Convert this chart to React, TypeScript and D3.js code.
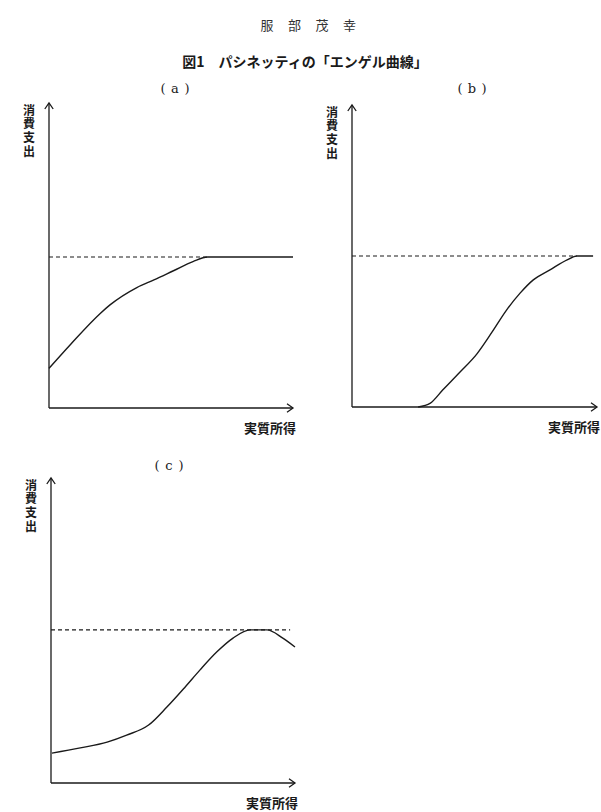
import React from "react";
import * as d3 from "d3";

// Panel (a): consumption reaches saturation and stays flat
const aIncome = [0, 9, 21, 25, 36, 43, 51, 59, 65, 100];
const aSpending = [13, 21, 31, 33.8, 39.5, 42, 45, 48, 49.5, 49.5];
const aSaturation = 49.5;

// Panel (b): S-shaped curve starting at positive income
const bIncome = [27, 32, 37, 44, 51, 57, 63, 68.6, 74, 80.8, 87.8, 91.8, 98.4];
const bSpending = [0, 1.3, 5.6, 11.5, 17.6, 24.6, 32, 37.7, 42.1, 45.4, 48.7, 50, 50];
const bSaturation = 50;

// Panel (c): rises, peaks at saturation, then declines
const cIncome = [0.4, 12, 23, 31, 40, 47.5, 55, 61, 68, 74.6, 81.6, 88.5, 95, 100];
const cSpending = [9.8, 11.5, 13.4, 15.7, 19, 24.9, 31.5, 37, 43, 47.5, 50.2, 50.2, 47.5, 44.6];
const cSaturation = 50.2;

const panelLetters = ["a", "b", "c"];
const yLabel = "消費支出";
const xLabel = "実質所得";
const author = ["服", "部", "茂", "幸"];
const title = "図1　パシネッティの「エンゲル曲線」";

type PanelProps = {
  x0: number; x1: number; y0: number; y1: number;
  income: number[]; spending: number[]; saturation: number;
  dashEnd: number; letter: string; labelX: number; labelY: number;
};

const ink = "#1a1a1a";
const jp = "'Noto Sans CJK JP', sans-serif";

function Panel(p: PanelProps) {
  const xs = d3.scaleLinear().domain([0, 100]).range([p.x0, p.x1]);
  const ys = d3.scaleLinear().domain([0, 100]).range([p.y0, p.y1]);
  const pts: [number, number][] = p.income.map((v, i) => [v, p.spending[i]]);
  const line = d3
    .line<[number, number]>()
    .x((d) => xs(d[0]))
    .y((d) => ys(d[1]))
    .curve(d3.curveMonotoneX);
  const ah = 6;
  return (
    <g>
      <g fontSize={13} fontFamily="'DejaVu Serif', serif" fill={ink} textAnchor="middle">
        <text x={p.labelX - 12} y={p.labelY}>(</text>
        <text x={p.labelX} y={p.labelY}>{p.letter}</text>
        <text x={p.labelX + 12} y={p.labelY}>)</text>
      </g>
      {/* y axis */}
      <line x1={xs(0)} x2={xs(0)} y1={ys(0)} y2={ys(100)} stroke={ink} strokeWidth={1.3} />
      <path d={`M${xs(0) - ah * 0.7},${ys(100) + ah} L${xs(0)},${ys(100)} L${xs(0) + ah * 0.7},${ys(100) + ah}`}
        fill="none" stroke={ink} strokeWidth={1.3} />
      {/* x axis */}
      <line x1={xs(0)} x2={xs(100)} y1={ys(0)} y2={ys(0)} stroke={ink} strokeWidth={1.3} />
      <path d={`M${xs(100) - ah},${ys(0) - ah * 0.7} L${xs(100)},${ys(0)} L${xs(100) - ah},${ys(0) + ah * 0.7}`}
        fill="none" stroke={ink} strokeWidth={1.3} />
      {/* saturation dashed line */}
      <line x1={xs(0)} x2={xs(p.dashEnd)} y1={ys(p.saturation)} y2={ys(p.saturation)}
        stroke={ink} strokeWidth={1.1} strokeDasharray="4,3" />
      {/* Engel curve */}
      <path d={line(pts) || ""} fill="none" stroke={ink} strokeWidth={1.4} />
      {/* labels */}
      <text x={xs(0) - 20} y={ys(100) + 1} fontSize={12} fontWeight={700} fontFamily={jp} fill={ink}
        style={{ writingMode: "vertical-rl", letterSpacing: "1.8px" }}>{yLabel}</text>
      <text x={xs(100) + 3} y={ys(0) + 25} textAnchor="end" fontSize={13}
        fontWeight={700} fontFamily={jp} fill={ink}>{xLabel}</text>
    </g>
  );
}

export default function App() {
  return (
    <svg width={601} height={812} style={{ position: "absolute", left: 0, top: 0, background: "#fff" }}>
      <rect width={601} height={812} fill="#fff" />
      {author.map((c, i) => (
        <text key={c} x={267 + i * 27.5} y={30} textAnchor="middle" fontSize={13}
          fontFamily={jp} fill="#333">{c}</text>
      ))}
      <text x={305} y={67} textAnchor="middle" fontSize={14} fontWeight={700}
        fontFamily={jp} fill={ink}>{title}</text>
      <Panel x0={49} x1={293} y0={408} y1={103} income={aIncome} spending={aSpending}
        saturation={aSaturation} dashEnd={65} letter={panelLetters[0]} labelX={175} labelY={93} />
      <Panel x0={352} x1={597} y0={407} y1={105} income={bIncome} spending={bSpending}
        saturation={bSaturation} dashEnd={91.8} letter={panelLetters[1]} labelX={472} labelY={93} />
      <Panel x0={51} x1={295} y0={783} y1={478} income={cIncome} spending={cSpending}
        saturation={cSaturation} dashEnd={98} letter={panelLetters[2]} labelX={169} labelY={470} />
    </svg>
  );
}
